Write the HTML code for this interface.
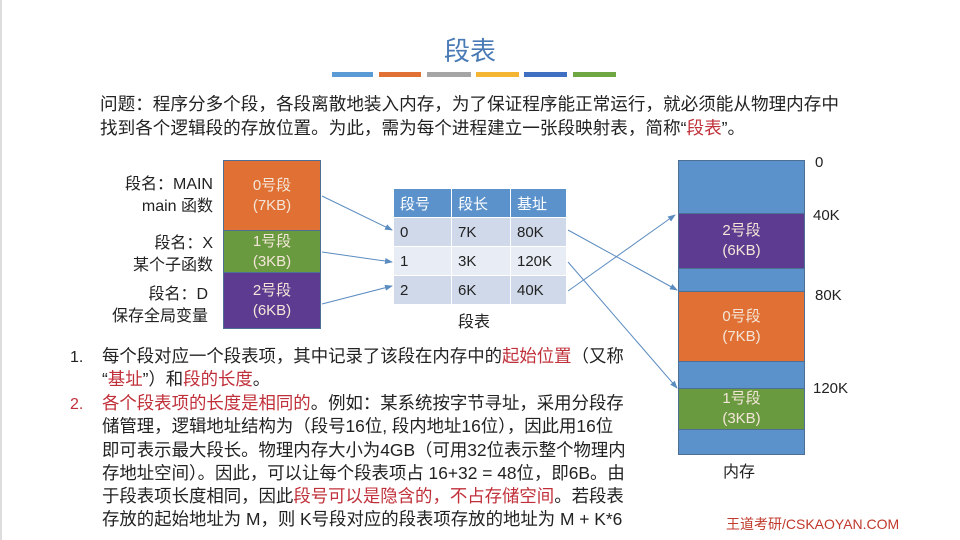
<!DOCTYPE html>
<html><head><meta charset="utf-8"><style>
body{margin:0;width:960px;height:540px;background:#fff;position:relative;overflow:hidden;font-family:"Liberation Sans","Noto Sans CJK SC",sans-serif;color:#222}
.a{position:absolute;white-space:nowrap}
.r{color:#c0303a}
.seg{position:absolute;color:#f3e6d8;text-align:center;font-size:15px;line-height:20px;display:flex;flex-direction:column;justify-content:center;box-sizing:border-box;border:1px solid #4e6f95}
.t td{border:1px solid #fff;height:28px;padding:0 0 0 6px;font-size:15px}
</style></head><body>
<div class="a" style="left:0;top:0;width:2px;height:540px;background:#ddd"></div>
<div class="a" style="left:444px;top:31px;font-size:26px;color:#4a7ab5">段表</div>
<div class="a" style="left:332px;top:72px;width:41px;height:5px;background:#5b9bd5"></div>
<div class="a" style="left:379px;top:72px;width:42px;height:5px;background:#e07034"></div>
<div class="a" style="left:427px;top:72px;width:44px;height:5px;background:#a5a5a5"></div>
<div class="a" style="left:476px;top:72px;width:43px;height:5px;background:#f4b532"></div>
<div class="a" style="left:524px;top:72px;width:43px;height:5px;background:#3e6fc0"></div>
<div class="a" style="left:573px;top:72px;width:43px;height:5px;background:#6fa743"></div>
<div class="a" style="left:100px;top:92px;font-size:17.6px;line-height:24px">问题：程序分多个段，各段离散地装入内存，为了保证程序能正常运行，就必须能从物理内存中<br>找到各个逻辑段的存放位置。为此，需为每个进程建立一张段映射表，简称“<span class="r">段表</span>”。</div>

<div class="a" style="left:100px;top:174px;width:113px;text-align:right;font-size:16px;line-height:22px">段名：MAIN<br>main 函数</div>
<div class="a" style="left:100px;top:233px;width:113px;text-align:right;font-size:16px;line-height:22px">段名：X<br>某个子函数</div>
<div class="a" style="left:90px;top:284px;width:118px;text-align:right;font-size:16px;line-height:22px">段名：D<br>保存全局变量</div>
<div class="seg" style="left:223px;top:160px;width:98px;height:71px;background:#e07034">0号段<br>(7KB)</div>
<div class="seg" style="left:223px;top:230px;width:98px;height:43px;background:#6a9a40">1号段<br>(3KB)</div>
<div class="seg" style="left:223px;top:272px;width:98px;height:57px;background:#5c3b91">2号段<br>(6KB)</div>

<table class="t a" style="left:393px;top:188px;border-collapse:collapse;width:174px">
<tr style="background:#5b92cc;color:#fff"><td style="width:51px">段号</td><td style="width:52px">段长</td><td>基址</td></tr>
<tr style="background:#cfd9ea"><td>0</td><td>7K</td><td>80K</td></tr>
<tr style="background:#e8edf5"><td>1</td><td>3K</td><td>120K</td></tr>
<tr style="background:#cfd9ea"><td>2</td><td>6K</td><td>40K</td></tr>
</table>
<div class="a" style="left:458px;top:308px;font-size:16px">段表</div>

<div class="a" style="left:678px;top:160px;width:127px;height:295px;background:#5b92cc;border:1px solid #4e6f95;box-sizing:border-box"></div>
<div class="seg" style="left:678px;top:213px;width:127px;height:56px;background:#5c3b91">2号段<br>(6KB)</div>
<div class="seg" style="left:678px;top:291px;width:127px;height:71px;background:#e07034">0号段<br>(7KB)</div>
<div class="seg" style="left:678px;top:388px;width:127px;height:42px;background:#6a9a40">1号段<br>(3KB)</div>
<div class="a" style="left:815px;top:154px;font-size:15px">0</div>
<div class="a" style="left:813px;top:207px;font-size:15px">40K</div>
<div class="a" style="left:815px;top:287px;font-size:15px">80K</div>
<div class="a" style="left:813px;top:380px;font-size:15px">120K</div>
<div class="a" style="left:723px;top:458px;font-size:16px">内存</div>

<svg class="a" style="left:0;top:0" width="960" height="540">
<defs><marker id="m" markerWidth="8" markerHeight="8" refX="7" refY="4" orient="auto"><path d="M0,1 L8,4 L0,7z" fill="#5b8cc0"/></marker></defs>
<g stroke="#5b8cc0" stroke-width="1" marker-end="url(#m)" fill="none">
<line x1="322" y1="196" x2="392" y2="230"/>
<line x1="322" y1="252" x2="392" y2="262"/>
<line x1="322" y1="304" x2="392" y2="286"/>
<line x1="568" y1="230" x2="677" y2="290"/>
<line x1="568" y1="262" x2="677" y2="388"/>
<line x1="568" y1="291" x2="675" y2="215"/>
</g></svg>

<div class="a" style="left:70px;top:346px;font-size:16px;line-height:23.3px">1.</div>
<div class="a" style="left:102px;top:345px;font-size:17.4px;line-height:23.3px">每个段对应一个段表项，其中记录了该段在内存中的<span class="r">起始位置</span>（又称<br>“<span class="r">基址</span>”）和<span class="r">段的长度</span>。</div>
<div class="a r" style="left:70px;top:393px;font-size:16px;line-height:23.3px">2.</div>
<div class="a" style="left:102px;top:392px;font-size:17.4px;line-height:23.3px"><span class="r">各个段表项的长度是相同的</span>。例如：某系统按字节寻址，采用分段存<br>储管理，逻辑地址结构为（段号16位, 段内地址16位），因此用16位<br>即可表示最大段长。物理内存大小为4GB（可用32位表示整个物理内<br>存地址空间）。因此，可以让每个段表项占 16+32 = 48位，即6B。由<br>于段表项长度相同，因此<span class="r">段号可以是隐含的，不占存储空间</span>。若段表<br>存放的起始地址为 M，则 K号段对应的段表项存放的地址为 M + K*6</div>
<div class="a" style="left:726px;top:514px;font-size:14px;color:#c0392b">王道考研/CSKAOYAN.COM</div>
</body></html>
